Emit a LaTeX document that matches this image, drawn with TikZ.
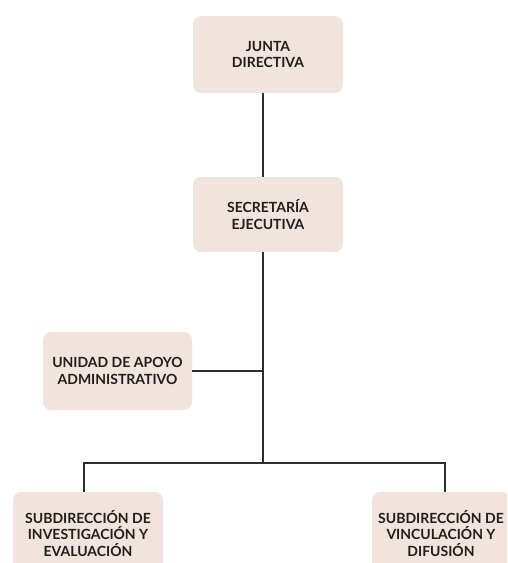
\documentclass[tikz,border=0pt]{standalone}
\usepackage{fontspec}
\setmainfont{Lato}
\definecolor{boxfill}{RGB}{240,228,221}
\definecolor{linecol}{RGB}{45,45,45}
\definecolor{textcol}{RGB}{35,30,30}
\begin{document}
\begin{tikzpicture}[x=1pt,y=-1pt,
  orgbox/.style={fill=boxfill, draw=none, rounded corners=8pt, inner sep=0pt,
    align=center, text=textcol, font=\fontsize{14}{16.5}\selectfont\bfseries},
  conn/.style={draw=linecol, line width=1.2pt}]
\clip (0,0) rectangle (507,563);
\fill[white] (0,0) rectangle (507,563);
\node[orgbox, minimum width=150pt, minimum height=77pt] (junta) at (268,54.5) {JUNTA\\DIRECTIVA};
\node[orgbox, minimum width=150pt, minimum height=75pt] (secre) at (268,214.5) {SECRETARÍA\\EJECUTIVA};
\node[orgbox, minimum width=149pt, minimum height=78pt] (unidad) at (117.5,371) {UNIDAD DE APOYO\\ADMINISTRATIVO};
\node[orgbox, minimum width=150pt, minimum height=83pt] (subinv) at (88,533.5) {SUBDIRECCIÓN DE\\INVESTIGACIÓN Y\\EVALUACIÓN};
\node[orgbox, minimum width=138pt, minimum height=83pt] (subvin) at (441,533.5) {SUBDIRECCIÓN DE\\VINCULACIÓN Y\\DIFUSIÓN};
\coordinate (spine) at (263,0);
\coordinate (hmid) at (263,463);
\coordinate (hl) at (84,463);
\coordinate (hr) at (445,463);
\draw[conn] (junta.south -| spine) -- (secre.north -| spine);
\draw[conn] (secre.south -| spine) -- (hmid);
\draw[conn] (unidad.east) -- (unidad.east -| spine);
\draw[conn] (subinv.north -| hl) -- (hl) -- (hr) -- (subvin.north -| hr);
\end{tikzpicture}
\end{document}
